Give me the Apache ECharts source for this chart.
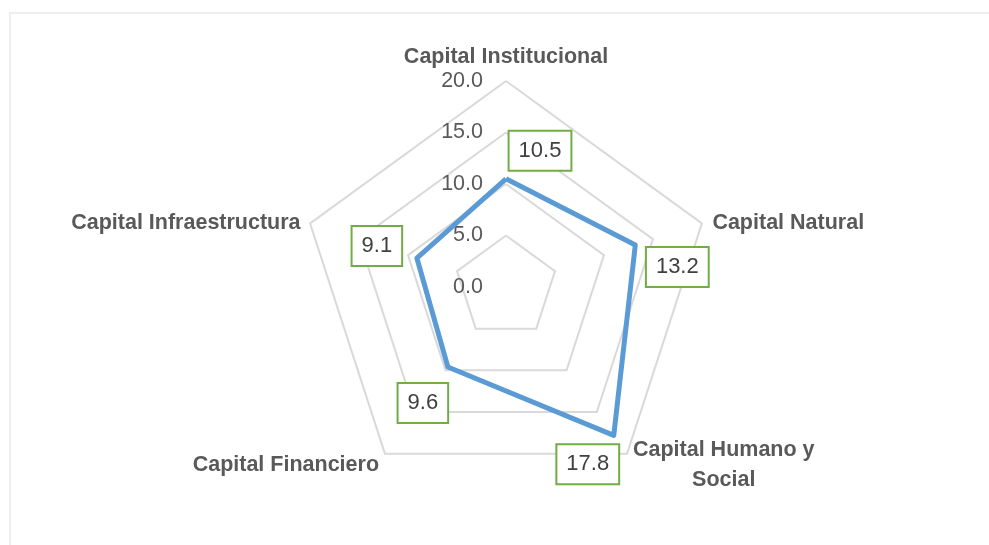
<!DOCTYPE html>
<html>
<head>
<meta charset="utf-8">
<title>Capitales</title>
<script src="https://cdn.jsdelivr.net/npm/echarts@6/dist/echarts.min.js"></script>
<style>
  html, body { margin: 0; padding: 0; background: #ffffff; }
  #chart { width: 989px; height: 545px; }
</style>
</head>
<body>
<div id="chart"></div>
<script>
// Capital dimensions, listed clockwise starting at the top
const categories = [
  'Capital Institucional',
  'Capital Natural',
  'Capital Humano y\nSocial',
  'Capital Financiero',
  'Capital Infraestructura'
];
const values = [10.5, 13.2, 17.8, 9.6, 9.1];
const tickValues = [0, 5, 10, 15, 20];
const tickLabels = ['0.0', '5.0', '10.0', '15.0', '20.0'];

const FONT = '"Liberation Sans", Arial, sans-serif';
const TEXT_GREY = '#595959';

// Radar indicators run counter-clockwise, so keep the first one and walk the rest backwards
const order = [0, 4, 3, 2, 1];
// Gap between each outer vertex and its category name (clockwise order)
const nameGaps = [9, 11, 10, 10, 10];
// Where each value box sits relative to its vertex (clockwise order)
const labelOffsets = [[34, -28], [42, 22], [-26, 29], [-25, 36], [-40, -12]];

const chart = echarts.init(document.getElementById('chart'), null, { renderer: 'canvas' });

const indicators = order.map(function (k, pos) {
  const ind = {
    name: categories[k],
    min: tickValues[0],
    max: tickValues[tickValues.length - 1],
    nameGap: nameGaps[k]
  };
  if (pos === 0) {
    ind.axisLabel = {
      show: true,
      margin: 23,
      color: TEXT_GREY,
      fontFamily: FONT,
      fontSize: 21.5,
      formatter: function (v) {
        const i = tickValues.indexOf(v);
        return i >= 0 ? tickLabels[i] : '';
      }
    };
  }
  return ind;
});

const option = {
  backgroundColor: '#ffffff',
  animation: false,
  graphic: [{
    type: 'rect',
    silent: true,
    shape: { x: 10, y: 13, width: 1000, height: 560 },
    style: { fill: 'none', stroke: '#eeeeee', lineWidth: 2 }
  }],
  radar: {
    center: [506, 287],
    radius: 206,
    startAngle: 90,
    shape: 'polygon',
    splitNumber: tickValues.length - 1,
    indicator: indicators,
    axisName: {
      color: TEXT_GREY,
      fontFamily: FONT,
      fontSize: 21.5,
      fontWeight: 'bold',
      padding: [6, 0, 0, 0],
      formatter: function (name) {
        return name.split('\n').map(function (line) { return '{c|' + line + '}'; }).join('\n');
      },
      rich: {
        c: {
          align: 'center',
          color: TEXT_GREY,
          fontFamily: FONT,
          fontSize: 21.5,
          fontWeight: 'bold',
          lineHeight: 30
        }
      }
    },
    axisLine: { show: false },
    axisTick: { show: false },
    axisLabel: { show: false },
    splitArea: { show: false },
    splitLine: { lineStyle: { color: '#d9d9d9', width: 2 } }
  },
  series: [{
    type: 'radar',
    silent: true,
    symbol: 'none',
    lineStyle: { color: '#5B9BD5', width: 5, join: 'round' },
    data: [{ value: order.map(function (k) { return values[k]; }) }]
  }]
};

chart.setOption(option);

// Value boxes placed from the radar coordinate system's own mapping of each value
const radarCS = chart.getModel().getComponent('radar', 0).coordinateSystem;
const valueBoxes = values.map(function (v, k) {
  const p = radarCS.dataToPoint(v, order.indexOf(k));
  return {
    type: 'text',
    silent: true,
    z: 10,
    x: p[0] + labelOffsets[k][0],
    y: p[1] + labelOffsets[k][1],
    style: {
      text: v.toFixed(1),
      fill: '#404040',
      font: '22px ' + FONT,
      align: 'center',
      verticalAlign: 'middle',
      backgroundColor: '#ffffff',
      borderColor: '#70AD47',
      borderWidth: 2,
      padding: [8, 9, 8, 9]
    }
  };
});

chart.setOption({ graphic: option.graphic.concat(valueBoxes) });
</script>
</body>
</html>
